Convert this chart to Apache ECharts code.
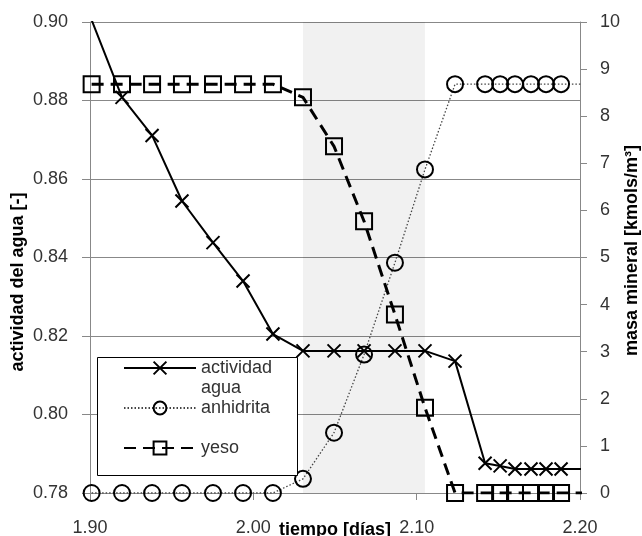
<!DOCTYPE html>
<html>
<head>
<meta charset="utf-8">
<script src="https://cdn.jsdelivr.net/npm/echarts@6/dist/echarts.min.js"></script>
<style>
html,body{margin:0;padding:0;background:#fff;}
#chart{width:642px;height:536px;}
</style>
</head>
<body>
<div id="chart"></div>
<script>
// time [days]
const tiempo = [1.901, 1.9196, 1.938, 1.9563, 1.9753, 1.9937, 2.012, 2.0304, 2.0494, 2.0678, 2.0867, 2.1051, 2.1235, 2.1419, 2.1511, 2.1602, 2.1700, 2.1792, 2.1884, 2.21];
// water activity [-]
const actividad = [0.9005, 0.8808, 0.8711, 0.8544, 0.8438, 0.8340, 0.8205, 0.8162, 0.8162, 0.8162, 0.8162, 0.8162, 0.8136, 0.7876, 0.7869, 0.7861, 0.7861, 0.7861, 0.7861, 0.7861];
// mineral mass [kmols/m3]
const anhidrita = [0, 0, 0, 0, 0, 0, 0, 0.30, 1.28, 2.94, 4.89, 6.87, 8.68, 8.68, 8.68, 8.68, 8.68, 8.68, 8.68, 8.68];
const yeso = [8.68, 8.68, 8.68, 8.68, 8.68, 8.68, 8.68, 8.40, 7.36, 5.77, 3.79, 1.81, 0, 0, 0, 0, 0, 0, 0, 0];
// shaded interval
const banda = [2.0304, 2.1051];
const seriesNames = ['actividad agua', 'anhidrita', 'yeso'];

function pairs(ys) { return tiempo.map((t, i) => [t, ys[i]]); }

const FONT = 'Liberation Sans, Arial, sans-serif';
const chart = echarts.init(document.getElementById('chart'), null, {renderer: 'canvas'});

chart.setOption({
  animation: false,
  backgroundColor: '#fff',
  grid: {left: 90, right: 62, top: 22, bottom: 43, containLabel: false, outerBoundsMode: 'none'},
  xAxis: {
    type: 'value', min: 1.9, max: 2.2, interval: 0.1,
    name: 'tiempo [días]', nameLocation: 'middle', nameGap: 28, nameMoveOverlap: false,
    nameTextStyle: {fontFamily: FONT, fontSize: 18, fontWeight: 'bold', color: '#000'},
    axisLine: {show: true, lineStyle: {color: '#888', width: 1}},
    axisTick: {show: true, inside: false, length: 7, lineStyle: {color: '#888'}},
    axisLabel: {margin: 26, fontFamily: FONT, fontSize: 18, color: '#333', formatter: v => v.toFixed(2)},
    splitLine: {show: false}
  },
  yAxis: [{
    type: 'value', min: 0.78, max: 0.90, interval: 0.02, position: 'left',
    name: 'actividad del agua [-]', nameLocation: 'middle', nameGap: 63, nameMoveOverlap: false,
    nameTextStyle: {fontFamily: FONT, fontSize: 18, fontWeight: 'bold', color: '#000', padding: [0, 49, 0, 0]},
    axisLine: {show: true, lineStyle: {color: '#888', width: 1}},
    axisTick: {show: true, length: 8, lineStyle: {color: '#888'}},
    axisLabel: {margin: 22, fontFamily: FONT, fontSize: 18, color: '#333', formatter: v => v.toFixed(2)},
    splitLine: {show: true, lineStyle: {color: '#888', width: 1}}
  }, {
    type: 'value', min: 0, max: 10, interval: 1, position: 'right',
    name: 'masa mineral [kmols/m³]', nameLocation: 'middle', nameGap: 43, nameRotate: 90, nameMoveOverlap: false,
    nameTextStyle: {fontFamily: FONT, fontSize: 18, fontWeight: 'bold', color: '#000', padding: [0, 0, 0, 14]},
    axisLine: {show: true, lineStyle: {color: '#888', width: 1}},
    axisTick: {show: true, length: 7, lineStyle: {color: '#888'}},
    axisLabel: {margin: 20, fontFamily: FONT, fontSize: 18, color: '#333'},
    splitLine: {show: false}
  }],
  legend: {
    orient: 'vertical', left: 123, top: 338, padding: 0, itemGap: 0,
    itemWidth: 72, itemHeight: 16, selectedMode: false,
    textStyle: {fontFamily: FONT, fontSize: 18, color: '#333', lineHeight: 20,
      rich: {s: {fontSize: 18, lineHeight: 20}}},
    formatter: name => name === seriesNames[0] ? '{s| }\n' + name.replace(' ', '\n') : name,
    data: [
      {name: seriesNames[0]},
      {name: seriesNames[1]},
      {name: seriesNames[2], textStyle: {padding: [20, 0, 20, 0]}}
    ]
  },
  graphic: [{
    type: 'rect', z: 3, silent: true,
    shape: {x: 97.5, y: 357.5, width: 200, height: 118},
    style: {fill: '#fff', stroke: '#000', lineWidth: 1}
  }],
  series: [{
    name: seriesNames[0], type: 'line', yAxisIndex: 0, data: pairs(actividad),
    clip: true, z: 2,
    symbol: 'path://M0 0L10 10M10 0L0 10', symbolSize: 13,
    itemStyle: {color: 'transparent', borderColor: '#000', borderWidth: 2},
    lineStyle: {color: '#000', width: 2},
    markArea: {
      silent: true,
      itemStyle: {color: 'rgba(0,0,0,0.055)'},
      data: [[{xAxis: banda[0]}, {xAxis: banda[1]}]]
    }
  }, {
    name: seriesNames[1], type: 'line', yAxisIndex: 1, data: pairs(anhidrita),
    clip: true, z: 2,
    symbol: 'circle', symbolSize: 16,
    itemStyle: {color: 'transparent', borderColor: '#000', borderWidth: 2},
    lineStyle: {color: '#444', width: 1.3, type: [1.5, 2]}
  }, {
    name: seriesNames[2], type: 'line', yAxisIndex: 1, data: pairs(yeso),
    clip: true, z: 2,
    symbol: 'rect', symbolSize: 16,
    itemStyle: {color: 'transparent', borderColor: '#000', borderWidth: 2},
    lineStyle: {color: '#000', width: 3, type: [12, 7]}
  }]
});
</script>
</body>
</html>
